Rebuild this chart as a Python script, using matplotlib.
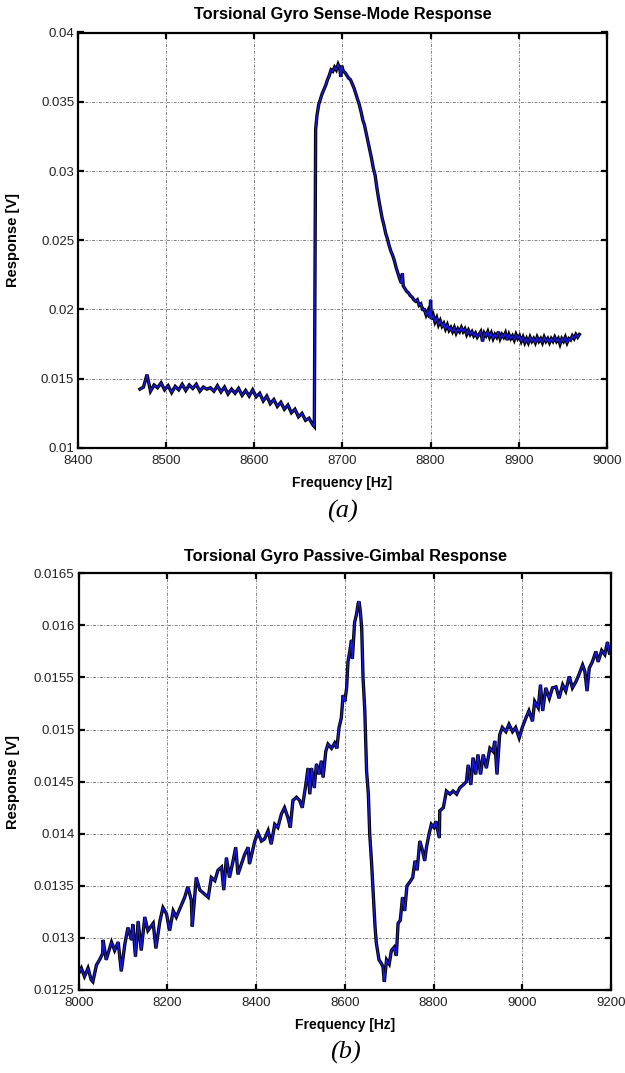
import matplotlib
matplotlib.use("Agg")
import matplotlib.pyplot as plt
from matplotlib.ticker import FixedLocator, FixedFormatter

plt.rcParams['font.family'] = ['Liberation Sans', 'DejaVu Sans']

# ---- (a) sense-mode response ----
sense_freq = [
    8470, 8474, 8478, 8482, 8486, 8490, 8494, 8498, 8502, 8506,
    8510, 8514, 8518, 8522, 8526, 8530, 8534, 8538, 8542, 8546,
    8550, 8554, 8558, 8562, 8566, 8570, 8574, 8578, 8582, 8586,
    8590, 8594, 8598, 8602, 8606, 8610, 8614, 8618, 8622, 8626,
    8630, 8634, 8638, 8642, 8646, 8650, 8654, 8658, 8662, 8666,
    8668, 8669.5, 8671, 8673, 8675, 8677, 8679, 8681, 8683, 8685,
    8687, 8689, 8691, 8693, 8695, 8697, 8698, 8699, 8701, 8703,
    8705, 8707, 8709, 8711, 8713, 8715, 8717, 8719, 8721, 8723,
    8725, 8727, 8729, 8731, 8733, 8735, 8737, 8739, 8741, 8743,
    8745, 8747, 8749, 8751, 8753, 8755, 8757, 8759, 8761, 8763,
    8765, 8767, 8768, 8769, 8771, 8773, 8775, 8777, 8779, 8781,
    8783, 8785, 8787, 8789, 8791, 8793, 8795, 8797, 8799, 8800,
    8801, 8803, 8805, 8807, 8809, 8811, 8813, 8815, 8817, 8819,
    8821, 8823, 8825, 8827, 8829, 8831, 8833, 8835, 8837, 8839,
    8841, 8843, 8845, 8847, 8849, 8851, 8853, 8855, 8857, 8859,
    8861, 8863, 8865, 8867, 8869, 8871, 8873, 8875, 8877, 8879,
    8881, 8883, 8885, 8887, 8889, 8891, 8893, 8895, 8897, 8899,
    8901, 8903, 8905, 8907, 8909, 8911, 8913, 8915, 8917, 8919,
    8921, 8923, 8925, 8927, 8929, 8931, 8933, 8935, 8937, 8939,
    8941, 8943, 8945, 8947, 8949, 8951, 8953, 8955, 8957, 8959,
    8961, 8963, 8965, 8967, 8969,
]
sense_resp = [
    0.01425, 0.01440, 0.01530, 0.01410, 0.01455, 0.01435, 0.01470, 0.01420, 0.01450, 0.01400,
    0.01445, 0.01420, 0.01460, 0.01415, 0.01455, 0.01430, 0.01460, 0.01410, 0.01440, 0.01425,
    0.01435, 0.01410, 0.01450, 0.01405, 0.01440, 0.01390, 0.01425, 0.01395, 0.01430, 0.01380,
    0.01415, 0.01375, 0.01420, 0.01370, 0.01395, 0.01340, 0.01375, 0.01320, 0.01350, 0.01300,
    0.01330, 0.01280, 0.01310, 0.01255, 0.01280, 0.01225, 0.01250, 0.01200, 0.01215, 0.01170,
    0.01155, 0.03300, 0.03400, 0.03480, 0.03520, 0.03560, 0.03590, 0.03620, 0.03660, 0.03690,
    0.03730, 0.03720, 0.03750, 0.03730, 0.03770, 0.03740, 0.03680, 0.03760, 0.03720, 0.03710,
    0.03690, 0.03670, 0.03660, 0.03630, 0.03600, 0.03560, 0.03520, 0.03480, 0.03430, 0.03370,
    0.03330, 0.03270, 0.03210, 0.03150, 0.03090, 0.03020, 0.02970, 0.02880, 0.02800, 0.02730,
    0.02660, 0.02610, 0.02550, 0.02510, 0.02460, 0.02420, 0.02390, 0.02350, 0.02300, 0.02260,
    0.02220, 0.02190, 0.02260, 0.02170, 0.02150, 0.02130, 0.02120, 0.02100, 0.02090, 0.02070,
    0.02060, 0.02070, 0.02030, 0.02040, 0.02000, 0.02000, 0.01960, 0.01990, 0.01940, 0.02070,
    0.01930, 0.01960, 0.01910, 0.01940, 0.01890, 0.01920, 0.01880, 0.01900, 0.01860, 0.01890,
    0.01850, 0.01870, 0.01840, 0.01870, 0.01830, 0.01860, 0.01840, 0.01870, 0.01840, 0.01860,
    0.01820, 0.01850, 0.01820, 0.01840, 0.01810, 0.01830, 0.01800, 0.01820, 0.01840, 0.01770,
    0.01830, 0.01810, 0.01840, 0.01800, 0.01830, 0.01790, 0.01820, 0.01800, 0.01840, 0.01790,
    0.01820, 0.01800, 0.01830, 0.01780, 0.01820, 0.01790, 0.01810, 0.01780, 0.01820, 0.01790,
    0.01810, 0.01770, 0.01800, 0.01760, 0.01790, 0.01760, 0.01800, 0.01770, 0.01790, 0.01760,
    0.01800, 0.01770, 0.01790, 0.01760, 0.01800, 0.01770, 0.01790, 0.01760, 0.01790, 0.01770,
    0.01800, 0.01770, 0.01790, 0.01750, 0.01790, 0.01770, 0.01800, 0.01760, 0.01790, 0.01780,
    0.01810, 0.01790, 0.01820, 0.01800, 0.01820,
]

# ---- (b) passive-gimbal response ----
gimbal_freq = [
    8000, 8006, 8013, 8021, 8028, 8032, 8040, 8047, 8054, 8055,
    8062, 8074, 8081, 8089, 8096, 8104, 8111, 8119, 8122, 8128,
    8134, 8141, 8149, 8156, 8168, 8174, 8183, 8190, 8198, 8205,
    8213, 8220, 8228, 8239, 8246, 8254, 8256, 8265, 8273, 8284,
    8292, 8299, 8307, 8314, 8322, 8327, 8333, 8340, 8348, 8354,
    8359, 8367, 8374, 8382, 8385, 8397, 8404, 8412, 8419, 8427,
    8434, 8442, 8449, 8457, 8464, 8472, 8477, 8483, 8491, 8498,
    8504, 8512, 8517, 8521, 8525, 8531, 8536, 8542, 8547, 8551,
    8557, 8562, 8570, 8577, 8582, 8587, 8592, 8596, 8600, 8604,
    8607, 8611, 8615, 8617, 8622, 8626, 8630, 8632, 8635, 8638,
    8641, 8645, 8649, 8653, 8656, 8660, 8664, 8668, 8671, 8677,
    8683, 8686, 8689, 8694, 8700, 8705, 8711, 8716, 8720, 8725,
    8730, 8735, 8740, 8747, 8753, 8758, 8763, 8769, 8775, 8780,
    8784, 8790, 8795, 8801, 8805, 8813, 8814, 8822, 8829, 8837,
    8844, 8852, 8859, 8867, 8874, 8878, 8884, 8889, 8895, 8900,
    8906, 8912, 8919, 8927, 8934, 8938, 8943, 8949, 8955, 8963,
    8970, 8978, 8985, 8993, 9000, 9008, 9015, 9023, 9028, 9036,
    9041, 9046, 9053, 9061, 9068, 9076, 9083, 9091, 9098, 9106,
    9113, 9121, 9128, 9136, 9141, 9146, 9151, 9158, 9166, 9171,
    9179, 9186, 9192, 9197, 9200,
]
gimbal_resp = [
    0.01266, 0.01271, 0.01263, 0.01271, 0.01260, 0.01258, 0.01274, 0.01279, 0.01285, 0.01298,
    0.01279, 0.01296, 0.01288, 0.01296, 0.01268, 0.01294, 0.01310, 0.01298, 0.01313, 0.01282,
    0.01316, 0.01288, 0.01320, 0.01307, 0.01314, 0.01290, 0.01316, 0.01329, 0.01323, 0.01307,
    0.01326, 0.01320, 0.01328, 0.01339, 0.01349, 0.01336, 0.01311, 0.01358, 0.01346, 0.01342,
    0.01339, 0.01358, 0.01355, 0.01365, 0.01368, 0.01346, 0.01377, 0.01358, 0.01374, 0.01387,
    0.01361, 0.01371, 0.01380, 0.01387, 0.01371, 0.01393, 0.01401, 0.01393, 0.01395, 0.01403,
    0.01390, 0.01409, 0.01406, 0.01419, 0.01425, 0.01415, 0.01406, 0.01432, 0.01435, 0.01432,
    0.01425, 0.01447, 0.01463, 0.01438, 0.01463, 0.01444, 0.01467, 0.01457, 0.01470, 0.01454,
    0.01479, 0.01486, 0.01482, 0.01487, 0.01482, 0.01502, 0.01511, 0.01533, 0.01527, 0.01540,
    0.01565, 0.01575, 0.01586, 0.01568, 0.01603, 0.01610, 0.01621, 0.01623, 0.01613, 0.01597,
    0.01550, 0.01518, 0.01460, 0.01438, 0.01400, 0.01374, 0.01342, 0.01311, 0.01295, 0.01279,
    0.01275, 0.01272, 0.01258, 0.01279, 0.01275, 0.01288, 0.01291, 0.01283, 0.01314, 0.01317,
    0.01339, 0.01326, 0.01350, 0.01354, 0.01358, 0.01374, 0.01365, 0.01393, 0.01384, 0.01374,
    0.01387, 0.01400, 0.01409, 0.01406, 0.01412, 0.01396, 0.01422, 0.01425, 0.01441, 0.01438,
    0.01441, 0.01438, 0.01444, 0.01447, 0.01450, 0.01466, 0.01447, 0.01473, 0.01457, 0.01476,
    0.01457, 0.01476, 0.01463, 0.01482, 0.01479, 0.01489, 0.01457, 0.01495, 0.01502, 0.01498,
    0.01505, 0.01498, 0.01502, 0.01492, 0.01502, 0.01511, 0.01518, 0.01508, 0.01527, 0.01521,
    0.01543, 0.01518, 0.01540, 0.01530, 0.01540, 0.01541, 0.01530, 0.01543, 0.01537, 0.01551,
    0.01540, 0.01546, 0.01553, 0.01562, 0.01556, 0.01537, 0.01559, 0.01565, 0.01575, 0.01565,
    0.01576, 0.01572, 0.01584, 0.01572, 0.01576,
]

sense_xticks = [8400, 8500, 8600, 8700, 8800, 8900, 9000]
sense_yticks = [0.01, 0.015, 0.02, 0.025, 0.03, 0.035, 0.04]
sense_ylabels = ['0.01', '0.015', '0.02', '0.025', '0.03', '0.035', '0.04']
gimbal_xticks = [8000, 8200, 8400, 8600, 8800, 9000, 9200]
gimbal_yticks = [0.0125, 0.013, 0.0135, 0.014, 0.0145, 0.015, 0.0155, 0.016, 0.0165]
gimbal_ylabels = ['0.0125', '0.013', '0.0135', '0.014', '0.0145', '0.015',
                  '0.0155', '0.016', '0.0165']

W, H = 625.0, 1073.0
fig = plt.figure(figsize=(W / 100, H / 100), dpi=100)


def px_axes(left, top, right, bottom):
    return fig.add_axes([left / W, 1 - bottom / H, (right - left) / W, (bottom - top) / H])


def px_text(x, y, s, **kw):
    fig.text(x / W, 1 - y / H, s, ha='center', va='center', **kw)


def draw_panel(ax, freq, resp, xticks, yticks, ylabels):
    ax.plot(freq, resp, color='black', lw=2.4, solid_joinstyle='miter')
    ax.plot(freq, resp, color='#1a1ae6', lw=1.0)
    ax.set_xlim(xticks[0], xticks[-1])
    ax.set_ylim(yticks[0], yticks[-1])
    ax.xaxis.set_major_locator(FixedLocator(xticks))
    ax.xaxis.set_major_formatter(FixedFormatter([str(t) for t in xticks]))
    ax.yaxis.set_major_locator(FixedLocator(yticks))
    ax.yaxis.set_major_formatter(FixedFormatter(ylabels))
    ax.grid(True, color='#808080', linestyle=(0, (3, 1.5, 1, 1.5)), lw=0.7)
    ax.tick_params(direction='in', top=True, right=True, length=4, width=1.6,
                   labelsize=9.5, labelcolor='#222222')
    ax.tick_params(axis='x', pad=5)
    ax.tick_params(axis='y', pad=3)
    for sp in ax.spines.values():
        sp.set_linewidth(1.6)
    ax.set_ylabel('Response [V]', fontsize=10.5, fontweight='bold')


ax1 = px_axes(78.3, 32.5, 606.7, 448)
draw_panel(ax1, sense_freq, sense_resp, sense_xticks, sense_yticks, sense_ylabels)
ax1.yaxis.set_label_coords((20 - 78.3) / 528.4, 0.5)

ax2 = px_axes(78.7, 573.3, 611, 990)
draw_panel(ax2, gimbal_freq, gimbal_resp, gimbal_xticks, gimbal_yticks, gimbal_ylabels)
ax2.yaxis.set_label_coords((20 - 78.7) / 532.3, 0.5)

px_text(342.5, 14.5, 'Torsional Gyro Sense-Mode Response', fontsize=11.8, fontweight='bold')
px_text(342.5, 482.5, 'Frequency [Hz]', fontsize=10, fontweight='bold')
px_text(342.5, 511.5, '(a)', fontsize=19, family='Liberation Serif', style='italic')

px_text(345, 556, 'Torsional Gyro Passive-Gimbal Response', fontsize=11.8, fontweight='bold')
px_text(345, 1025, 'Frequency [Hz]', fontsize=10, fontweight='bold')
px_text(345, 1052, '(b)', fontsize=19, family='Liberation Serif', style='italic')

fig.savefig('out.png', dpi=100)
